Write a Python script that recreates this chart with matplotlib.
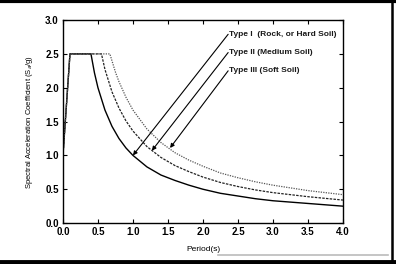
import matplotlib
matplotlib.use("Agg")
import matplotlib.pyplot as plt
from matplotlib.lines import Line2D

plt.rcParams['font.family'] = ['Liberation Sans', 'DejaVu Sans']

# values (Sa/g against period in s)
t_rock = [0.0, 0.1, 0.4, 0.45, 0.5, 0.6, 0.7, 0.8, 0.9, 1.0, 1.2, 1.4, 1.6, 1.8,
          2.0, 2.25, 2.5, 2.75, 3.0, 3.5, 4.0]
sa_rock = [1.0, 2.5, 2.5, 2.22, 2.0, 1.67, 1.43, 1.25, 1.11, 1.0, 0.83, 0.71, 0.63,
           0.56, 0.5, 0.44, 0.4, 0.36, 0.33, 0.29, 0.25]

t_medium = [0.0, 0.1, 0.55, 0.6, 0.7, 0.8, 0.9, 1.0, 1.2, 1.4, 1.6, 1.8, 2.0,
            2.25, 2.5, 2.75, 3.0, 3.5, 4.0]
sa_medium = [1.0, 2.5, 2.5, 2.27, 1.94, 1.70, 1.51, 1.36, 1.13, 0.97, 0.85, 0.76,
             0.68, 0.60, 0.54, 0.49, 0.45, 0.39, 0.34]

t_soft = [0.0, 0.1, 0.67, 0.75, 0.8, 0.9, 1.0, 1.2, 1.4, 1.6, 1.8, 2.0, 2.25,
          2.5, 2.75, 3.0, 3.5, 4.0]
sa_soft = [1.0, 2.5, 2.5, 2.23, 2.09, 1.86, 1.67, 1.39, 1.19, 1.04, 0.93, 0.84,
           0.74, 0.67, 0.61, 0.56, 0.48, 0.42]

labels = ['Type I  (Rock, or Hard Soil)', 'Type II (Medium Soil)', 'Type III (Soft Soil)']
label_pos = [(2.36, 2.79), (2.36, 2.52), (2.36, 2.25)]
arrow_tip = [(1.0, 1.0), (1.27, 1.07), (1.53, 1.11)]

fig = plt.figure(figsize=(3.96, 2.64), dpi=100)
ax = fig.add_axes([0.159, 0.155, 0.707, 0.769])

ax.plot(t_rock, sa_rock, color='black', lw=1.0)
ax.plot(t_medium, sa_medium, color='#222222', lw=0.9, linestyle=(0, (2, 1)))
ax.plot(t_soft, sa_soft, color='#555555', lw=0.9, linestyle=(0, (1, 1)))

for lab, pos, tip in zip(labels, label_pos, arrow_tip):
    ax.annotate('', xy=tip, xytext=pos,
                arrowprops=dict(arrowstyle='-|>', color='black', lw=0.8,
                                mutation_scale=6, shrinkA=0, shrinkB=0))
    ax.text(pos[0] + 0.01, pos[1], lab, fontsize=6, fontweight='bold', color='#1a1a1a',
            va='center', ha='left')

ax.set_xlim(0, 4)
ax.set_ylim(0, 3)
ax.set_xticks([0, 0.5, 1, 1.5, 2, 2.5, 3, 3.5, 4])
ax.set_yticks([0, 0.5, 1, 1.5, 2, 2.5, 3])
ax.tick_params(direction='in', length=3, width=0.8, top=True, right=True,
               labelsize=7, pad=3)
for lbl in ax.get_xticklabels() + ax.get_yticklabels():
    lbl.set_fontweight('bold')
for sp in ax.spines.values():
    sp.set_linewidth(1.0)

ax.set_xlabel('Period(s)', fontsize=6, labelpad=6)
ax.set_ylabel('Spectral Acceleration Coefficient (S$_a$/g)', fontsize=5.5, labelpad=7)

# scan frame around the figure
fig.add_artist(Line2D([0, 1], [0.995, 0.995], transform=fig.transFigure, color='black', lw=3))
fig.add_artist(Line2D([0, 1], [0.007, 0.007], transform=fig.transFigure, color='black', lw=3.5))
fig.add_artist(Line2D([0.99, 0.99], [0, 1], transform=fig.transFigure, color='black', lw=1.8))
fig.add_artist(Line2D([0.55, 0.98], [0.033, 0.033], transform=fig.transFigure, color='#bbbbbb', lw=1.2))

fig.savefig('out.png', dpi=100)
